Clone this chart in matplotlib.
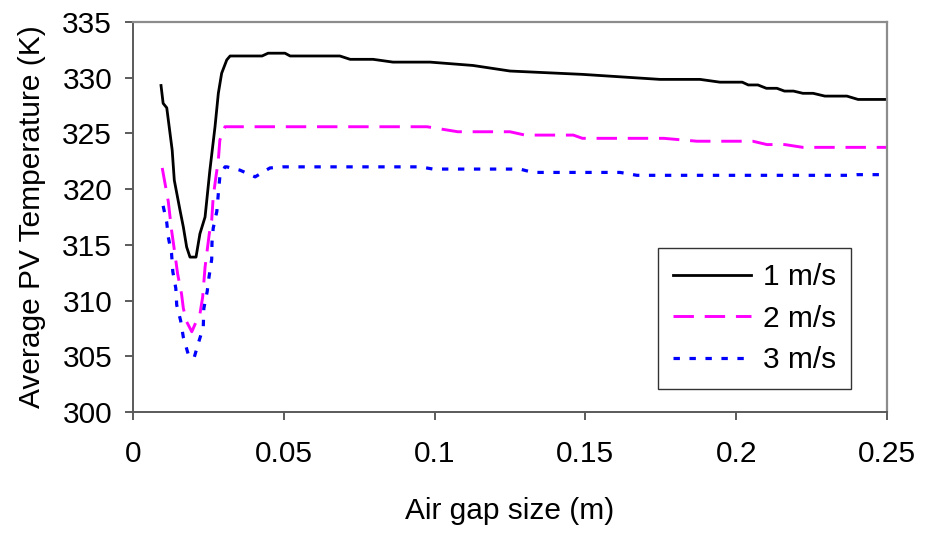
import matplotlib
matplotlib.use("Agg")
import matplotlib.pyplot as plt

plt.rcParams["font.family"] = ["Liberation Sans", "DejaVu Sans"]
plt.rcParams["font.size"] = 21.5

# air gap (m) and average PV temperature (K) for each wind speed
gap_1 = [0.0093, 0.0100, 0.0112, 0.0130, 0.0137, 0.0156, 0.0167, 0.0178, 0.0189,
         0.0209, 0.0222, 0.0239, 0.0255, 0.0272, 0.0283, 0.0294, 0.0311, 0.0322,
         0.0428, 0.0448, 0.0504, 0.0521, 0.0686, 0.0720, 0.0796, 0.0862, 0.0985,
         0.1127, 0.1250, 0.1490, 0.1747, 0.1880, 0.1946, 0.2020, 0.2040, 0.2072,
         0.2100, 0.2135, 0.2160, 0.2190, 0.2221, 0.2255, 0.2294, 0.2367, 0.2404,
         0.2500]
temp_1 = [329.3, 327.7, 327.3, 323.5, 320.8, 318.1, 316.6, 314.8, 313.9,
          313.9, 316.0, 317.5, 321.7, 325.6, 328.6, 330.4, 331.6, 331.95,
          331.95, 332.2, 332.2, 331.95, 331.95, 331.65, 331.65, 331.4, 331.4,
          331.1, 330.6, 330.3, 329.85, 329.85, 329.6, 329.6, 329.35, 329.35,
          329.05, 329.05, 328.8, 328.8, 328.6, 328.6, 328.35, 328.35, 328.05,
          328.05]

gap_2 = [0.0097, 0.0109, 0.0117, 0.0128, 0.0139, 0.0148, 0.0161, 0.0167, 0.0178,
         0.0195, 0.0211, 0.0222, 0.0231, 0.0239, 0.0253, 0.0261, 0.0266, 0.0275,
         0.0283, 0.0288, 0.0305, 0.0322, 0.0975, 0.1077, 0.1250, 0.1300, 0.1460,
         0.1490, 0.1760, 0.1870, 0.2055, 0.2102, 0.2161, 0.2221, 0.2500]
temp_2 = [321.9, 320.1, 318.9, 316.3, 314.2, 312.4, 310.6, 309.3, 308.1,
          307.2, 308.2, 308.8, 310.3, 313.0, 316.0, 317.2, 319.3, 321.1,
          322.6, 324.4, 325.6, 325.6, 325.6, 325.15, 325.15, 324.85, 324.85,
          324.56, 324.56, 324.3, 324.3, 324.0, 324.0, 323.75, 323.75]

gap_3 = [0.0100, 0.0112, 0.0117, 0.0128, 0.0132, 0.0142, 0.0145, 0.0158, 0.0167,
         0.0183, 0.0202, 0.0217, 0.0233, 0.0235, 0.0246, 0.0252, 0.0261, 0.0262,
         0.0266, 0.0278, 0.0283, 0.0288, 0.0305, 0.0311, 0.0355, 0.0405, 0.0454,
         0.0497, 0.0952, 0.0995, 0.1283, 0.1326, 0.1615, 0.1671, 0.2377, 0.2401,
         0.2500]
temp_3 = [318.5, 317.0, 315.7, 314.2, 312.6, 311.1, 309.6, 308.2, 306.7,
          305.2, 304.8, 306.2, 307.6, 309.3, 310.8, 312.1, 313.7, 315.2,
          316.5, 318.0, 319.6, 321.1, 322.0, 322.0, 321.7, 321.1, 321.9,
          322.0, 322.0, 321.8, 321.8, 321.5, 321.5, 321.24, 321.24, 321.3,
          321.3]

fig = plt.figure(figsize=(9.26, 5.34), dpi=100)
ax = fig.add_axes([0.1436, 0.2285, 0.8143, 0.7303])

ax.plot(gap_1, temp_1, color="black", lw=2.0, label="1 m/s")
ax.plot(gap_2, temp_2, color="#ff00ff", lw=2.1, dashes=(7, 3.7), label="2 m/s")
ax.plot(gap_3, temp_3, color="#0000ff", lw=2.3, dashes=(2, 3), label="3 m/s")

ax.set_xlim(0, 0.25)
ax.set_ylim(300, 335)
ax.set_xticks([0, 0.05, 0.1, 0.15, 0.2, 0.25])
ax.set_xticklabels(["0", "0.05", "0.1", "0.15", "0.2", "0.25"])
ax.set_yticks(range(300, 336, 5))

for side in ["top", "right"]:
    ax.spines[side].set_color("#8c8c8c")
    ax.spines[side].set_linewidth(1.6)
for side in ["left", "bottom"]:
    ax.spines[side].set_color("#5a5a5a")
    ax.spines[side].set_linewidth(1.4)
ax.tick_params(axis="both", direction="out", length=6, width=1.2, color="#404040")
ax.tick_params(axis="x", pad=14)
ax.tick_params(axis="y", pad=9)

ax.set_xlabel("Air gap size (m)", labelpad=21)
ax.set_ylabel("Average PV Temperature (K)", labelpad=12)

leg = ax.legend(loc="lower right", bbox_to_anchor=(0.952, 0.059),
                frameon=True, fancybox=False, shadow=False,
                handlelength=2.6, handletextpad=0.4, labelspacing=0.45,
                borderpad=0.5, borderaxespad=0)
leg.get_frame().set_edgecolor("black")
leg.get_frame().set_linewidth(1.0)

fig.savefig("out.png", dpi=100)
